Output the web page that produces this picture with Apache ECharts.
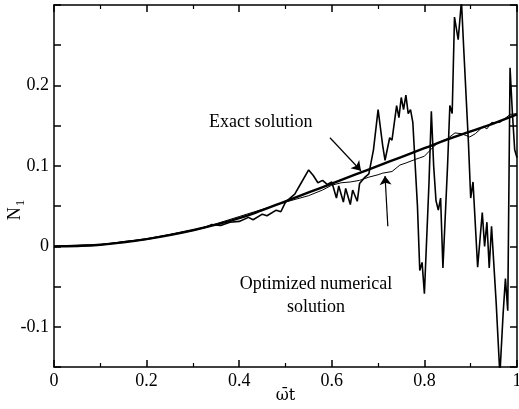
<!DOCTYPE html>
<html>
<head>
<meta charset="utf-8">
<script src="https://cdn.jsdelivr.net/npm/echarts@6.0.0/dist/echarts.min.js"></script>
<style>
  html, body { margin: 0; padding: 0; background: #fff; }
  #chart { width: 519px; height: 409px; }
</style>
</head>
<body>
<div id="chart"></div>
<script>
// exact solution sampled on a regular grid of omega-bar t
const tGrid = [0, 0.05, 0.1, 0.15, 0.2, 0.25, 0.3, 0.35, 0.4, 0.45, 0.5,
  0.55, 0.6, 0.65, 0.7, 0.75, 0.8, 0.85, 0.9, 0.95, 1.0]
const exactValues = [0, 0.0005, 0.002, 0.005, 0.009, 0.014, 0.020, 0.027, 0.035, 0.045, 0.056,
  0.067, 0.078, 0.089, 0.100, 0.111, 0.122, 0.133, 0.143, 0.153, 0.164]

// optimized numerical solution (thin line hugging the exact one)
const optimizedPoints = [
  [0, 0], [0.1, 0.002], [0.2, 0.009], [0.3, 0.020], [0.35, 0.028], [0.4, 0.037],
  [0.45, 0.046], [0.5, 0.055], [0.55, 0.063], [0.58, 0.070], [0.6, 0.076],
  [0.62, 0.079], [0.64, 0.080], [0.66, 0.082], [0.68, 0.086], [0.7, 0.089],
  [0.71, 0.091], [0.73, 0.093], [0.747, 0.101], [0.762, 0.104], [0.78, 0.108],
  [0.79, 0.110], [0.8, 0.112], [0.82, 0.124], [0.83, 0.129], [0.85, 0.134],
  [0.866, 0.141], [0.88, 0.140], [0.898, 0.136], [0.91, 0.140], [0.927, 0.149],
  [0.935, 0.146], [0.945, 0.154], [0.963, 0.154], [0.97, 0.157], [0.985, 0.164],
  [1.0, 0.165]
]

// plain numerical solution (wildly oscillating beyond ~0.5)
const numericalPoints = [
  [0, 0], [0.1, 0.002], [0.2, 0.009], [0.3, 0.020], [0.33, 0.024],
  [0.34, 0.027], [0.36, 0.026], [0.38, 0.030], [0.40, 0.031], [0.42, 0.036],
  [0.43, 0.033], [0.45, 0.040], [0.46, 0.038], [0.48, 0.045], [0.49, 0.043],
  [0.50, 0.055], [0.52, 0.065], [0.535, 0.080], [0.55, 0.095], [0.56, 0.088],
  [0.57, 0.079], [0.58, 0.082], [0.59, 0.077], [0.60, 0.080], [0.61, 0.060],
  [0.615, 0.075], [0.625, 0.055], [0.63, 0.072], [0.64, 0.052], [0.645, 0.070],
  [0.655, 0.056], [0.66, 0.078], [0.67, 0.085], [0.68, 0.090], [0.69, 0.120],
  [0.70, 0.170], [0.71, 0.125], [0.715, 0.107], [0.725, 0.135], [0.73, 0.132],
  [0.74, 0.175], [0.745, 0.160], [0.75, 0.185], [0.755, 0.170], [0.76, 0.188],
  [0.765, 0.165], [0.77, 0.170], [0.775, 0.154], [0.785, 0.050], [0.79, -0.030],
  [0.795, -0.020], [0.80, -0.059], [0.81, 0.080], [0.815, 0.168], [0.82, 0.100],
  [0.825, 0.057], [0.83, 0.045], [0.835, 0.060], [0.84, -0.027], [0.85, 0.100],
  [0.855, 0.175], [0.86, 0.165], [0.865, 0.285], [0.873, 0.257], [0.88, 0.305],
  [0.885, 0.245], [0.895, 0.130], [0.90, 0.060], [0.905, 0.080], [0.915, -0.026],
  [0.925, 0.042], [0.93, 0.000], [0.935, 0.030], [0.94, -0.027], [0.945, 0.025],
  [0.955, -0.070], [0.963, -0.160], [0.97, -0.084], [0.975, -0.040], [0.98, -0.080],
  [0.985, 0.222], [0.99, 0.166], [0.995, 0.120], [1.0, 0.110]
]

// annotation anchors, in data units
const exactLabelAt = [0.335, 0.154]
const exactArrow = [[0.596, 0.135], [0.663, 0.094]]
const optimizedLabelAt = [0.566, -0.0325]
const optimizedArrow = [[0.721, 0.025], [0.715, 0.0875]]

const FONT = '"Liberation Serif", "DejaVu Serif", serif'

function axisBase(extra) {
  return Object.assign({
    type: 'value',
    axisLine: { onZero: false, lineStyle: { color: '#000', width: 1.5 } },
    axisTick: { inside: true, length: 7, lineStyle: { color: '#000', width: 1.5 } },
    minorTick: { show: true, splitNumber: 2, length: 4, lineStyle: { color: '#000', width: 1.2 } },
    splitLine: { show: false },
    axisLabel: { color: '#000', fontFamily: FONT, fontSize: 18 }
  }, extra)
}

function arrowLine(pair) {
  return [{ coord: pair[0] }, { coord: pair[1] }]
}

let chart = echarts.init(document.getElementById('chart'))

let option = {
  animation: false,
  backgroundColor: '#fff',
  grid: { left: 54, right: 2, top: 5, bottom: 42, containLabel: false, outerBoundsMode: 'none' },
  xAxis: [
    axisBase({
      min: 0, max: 1, interval: 0.2, position: 'bottom',
      name: 'ω\u0304t', nameLocation: 'middle', nameGap: 21, nameMoveOverlap: false,
      nameTextStyle: { color: '#000', fontFamily: '"DejaVu Serif", serif', fontSize: 16, verticalAlign: 'top' },
      axisLabel: {
        color: '#000', fontFamily: FONT, fontSize: 18, margin: 5,
        formatter: v => (v === 0 || v === 1) ? String(v) : v.toFixed(1)
      }
    }),
    axisBase({ min: 0, max: 1, interval: 0.2, position: 'top', axisLabel: { show: false } })
  ],
  yAxis: [
    axisBase({
      min: -0.15, max: 0.3, interval: 0.05, position: 'left',
      name: '{n|N}{s|1}', nameLocation: 'middle', nameGap: 27, nameRotate: 90,
      nameMoveOverlap: false,
      nameTextStyle: {
        padding: [0, 48, 0, 0],
        rich: {
          n: { color: '#000', fontFamily: FONT, fontSize: 18 },
          s: { color: '#000', fontFamily: FONT, fontSize: 13, padding: [10, 0, 0, 1] }
        }
      },
      minorTick: { show: false },
      axisTick: { inside: true, length: 7, lineStyle: { color: '#000', width: 1.5 } },
      axisLabel: {
        color: '#000', fontFamily: FONT, fontSize: 18, margin: 5,
        formatter: v => {
          let r = Math.round(v * 100) / 100
          if (r > 0.25) return ''
          if (Math.abs(r * 10 - Math.round(r * 10)) > 1e-6) return ''
          return r === 0 ? '0' : String(r)
        }
      }
    }),
    axisBase({
      min: -0.15, max: 0.3, interval: 0.05, position: 'right',
      minorTick: { show: false }, axisLabel: { show: false }
    })
  ],
  series: [
    {
      name: 'Exact solution',
      type: 'line',
      data: tGrid.map((t, i) => [t, exactValues[i]]),
      smooth: true,
      showSymbol: false,
      lineStyle: { color: '#000', width: 2.4 },
      markLine: {
        silent: true,
        symbol: ['none', 'arrow'],
        symbolSize: 9,
        label: { show: false },
        lineStyle: { color: '#000', width: 1.2, type: 'solid' },
        data: [arrowLine(exactArrow), arrowLine(optimizedArrow)]
      },
      z: 3
    },
    {
      name: 'Optimized numerical solution',
      type: 'line',
      data: optimizedPoints,
      showSymbol: false,
      lineStyle: { color: '#000', width: 1 },
      z: 2
    },
    {
      name: 'Numerical solution',
      type: 'line',
      data: numericalPoints,
      showSymbol: false,
      lineStyle: { color: '#000', width: 1.6 },
      z: 2
    }
  ]
}

chart.setOption(option)

let p1 = chart.convertToPixel({ xAxisIndex: 0, yAxisIndex: 0 }, exactLabelAt)
let p2 = chart.convertToPixel({ xAxisIndex: 0, yAxisIndex: 0 }, optimizedLabelAt)
chart.setOption({
  graphic: [
    {
      type: 'text', x: p1[0], y: p1[1],
      style: {
        text: 'Exact solution', fill: '#000', font: '18px ' + FONT,
        textAlign: 'left', textVerticalAlign: 'middle'
      }
    },
    {
      type: 'text', x: p2[0], y: p2[1],
      style: {
        text: 'Optimized numerical\nsolution', fill: '#000', font: '18px ' + FONT,
        textAlign: 'center', textVerticalAlign: 'top', lineHeight: 23
      }
    }
  ]
})
</script>
</body>
</html>
